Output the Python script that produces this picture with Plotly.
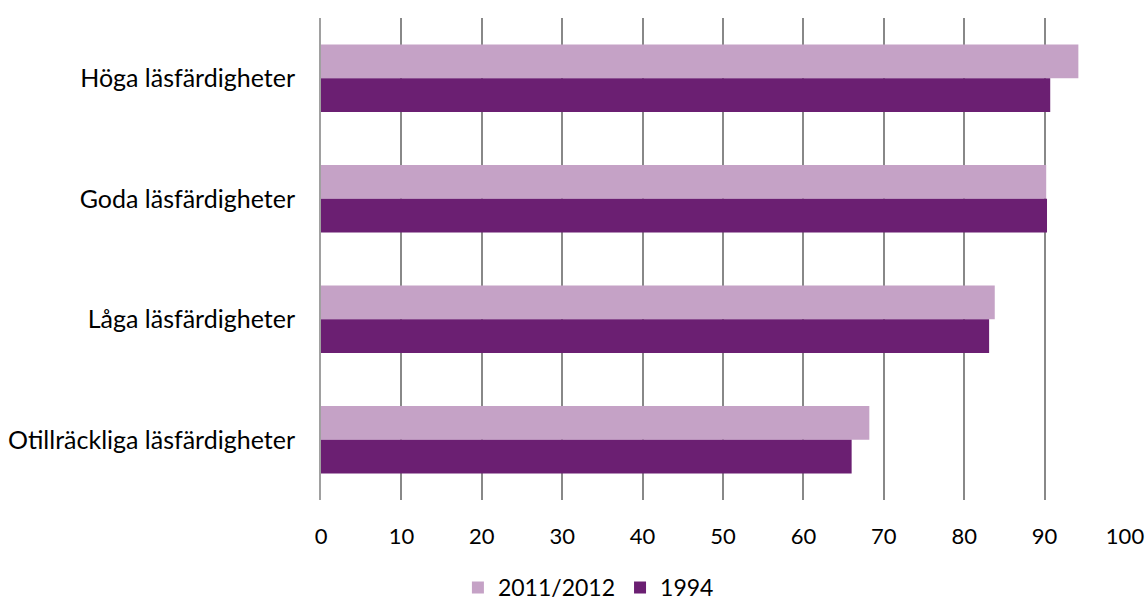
import plotly.graph_objects as go

categories = ["Höga läsfärdigheter", "Goda läsfärdigheter", "Låga läsfärdigheter", "Otillräckliga läsfärdigheter"]
series_names = ["2011/2012", "1994"]
values_2011 = [94.2, 90.2, 83.8, 68.2]
values_1994 = [90.7, 90.3, 83.1, 66.0]
x_ticks = [0, 10, 20, 30, 40, 50, 60, 70, 80, 90, 100]

colors = ["#C5A2C6", "#6B1F72"]
font_family = "Lato, 'Open Sans', sans-serif"

fig = go.Figure()
for name, vals, col in zip(series_names, [values_2011, values_1994], colors):
    fig.add_trace(go.Bar(
        y=categories, x=vals, name=name, orientation="h",
        marker=dict(color=col, line=dict(width=0)),
    ))

fig.update_layout(
    width=1147, height=602,
    margin=dict(l=321, r=22, t=18, b=102, autoexpand=False),
    paper_bgcolor="white", plot_bgcolor="white",
    barmode="group", bargap=0.44, bargroupgap=0,
    font=dict(family=font_family, size=24, color="#000000"),
    showlegend=True,
    legend=dict(orientation="h", xref="container", yref="container",
                x=0.513, xanchor="center", y=0.024, yanchor="middle",
                font=dict(size=23), traceorder="normal"),
    xaxis=dict(range=[0, 100], tickvals=x_ticks, showgrid=True,
               gridcolor="#888888", gridwidth=1.5, zeroline=False,
               showline=False, ticks="", ticklabelstandoff=21,
               automargin=False, tickfont=dict(size=22)),
    yaxis=dict(autorange="reversed", showgrid=False, showline=True,
               linecolor="#A0A0A0", linewidth=2, ticks="",
               ticklabelstandoff=19, automargin=False,
               tickfont=dict(size=25)),
)

fig.write_html(
    "out.html",
    config={"displayModeBar": False},
    post_script="document.body.style.margin='0';document.body.style.overflow='hidden';",
)
